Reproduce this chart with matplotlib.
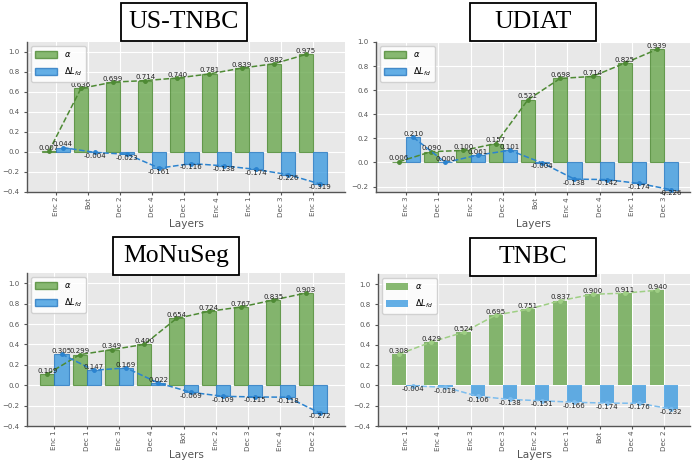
import numpy as np
import matplotlib.pyplot as plt
from matplotlib.patches import Rectangle, Patch

# per-dataset layer ordering, alpha values and delta L_fd
us_layers = ["Enc 2", "Bot", "Dec 2", "Dec 4", "Dec 1", "Enc 4", "Enc 1", "Dec 3", "Enc 3"]
us_alpha = [0.007, 0.636, 0.699, 0.714, 0.740, 0.781, 0.839, 0.882, 0.975]
us_dl = [0.044, -0.004, -0.023, -0.161, -0.116, -0.138, -0.174, -0.226, -0.319]

ud_layers = ["Enc 3", "Dec 1", "Enc 2", "Dec 2", "Bot", "Enc 4", "Dec 4", "Enc 1", "Dec 3"]
ud_alpha = [0.006, 0.090, 0.100, 0.157, 0.521, 0.698, 0.714, 0.825, 0.939]
ud_dl = [0.210, 0.000, 0.061, 0.101, -0.004, -0.138, -0.142, -0.174, -0.226]

mo_layers = ["Enc 1", "Dec 1", "Enc 3", "Dec 4", "Bot", "Enc 2", "Dec 3", "Enc 4", "Dec 2"]
mo_alpha = [0.109, 0.299, 0.349, 0.400, 0.654, 0.724, 0.767, 0.835, 0.903]
mo_dl = [0.305, 0.147, 0.169, 0.022, -0.069, -0.109, -0.115, -0.118, -0.272]

tn_layers = ["Enc 1", "Enc 4", "Enc 3", "Dec 3", "Enc 2", "Dec 1", "Bot", "Dec 4", "Dec 2"]
tn_alpha = [0.308, 0.429, 0.524, 0.695, 0.751, 0.837, 0.900, 0.911, 0.940]
tn_dl = [-0.004, -0.018, -0.106, -0.138, -0.151, -0.166, -0.174, -0.176, -0.232]

GREEN = "#6aa84f"
BLUE = "#3d9be0"

W, H = 692, 461
fig = plt.figure(figsize=(W / 100, H / 100), dpi=100)


def px_axes(left, top, right, bottom):
    return fig.add_axes([left / W, 1 - bottom / H, (right - left) / W, (bottom - top) / H])


def panel(ax, layers, alpha, dl, ylim, xlim, label_y, light=False):
    x = np.arange(len(layers))
    w = 0.44
    ax.set_facecolor("#e8e8e8")
    ax.set_axisbelow(True)
    ax.grid(True, color="white", linewidth=0.8)
    if light:
        ax.bar(x - w / 2, alpha, w, color=GREEN, alpha=0.8, label=r"$\alpha$")
        ax.bar(x + w / 2, dl, w, color=BLUE, alpha=0.8, label=r"$\Delta L_{fd}$")
        gl, bl = "#9fcf85", "#7dbdee"
    else:
        ax.bar(x - w / 2, alpha, w, color=GREEN, alpha=0.8, edgecolor="#4e8a34",
               linewidth=0.8, label=r"$\alpha$")
        ax.bar(x + w / 2, dl, w, color=BLUE, alpha=0.8, edgecolor="#2878c0",
               linewidth=0.8, label=r"$\Delta L_{fd}$")
        gl, bl = "#4e8a34", "#2b83cf"
    ax.plot(x - w / 2, alpha, "--o", color=gl, lw=1.1, ms=2.5, zorder=3)
    ax.plot(x + w / 2, dl, "--o", color=bl, lw=1.1, ms=2.5, zorder=3)
    for xi, a in zip(x, alpha):
        ax.text(xi - w / 2, a + 0.004, f"{a:.3f}", ha="center", va="bottom",
                fontsize=5, color="#222", zorder=4)
    for xi, d in zip(x, dl):
        if d >= 0:
            ax.text(xi + w / 2, d + 0.004, f"{d:.3f}", ha="center", va="bottom",
                    fontsize=5, color="#222", zorder=4)
        else:
            ax.text(xi + w / 2, d - 0.004, f"{d:.3f}", ha="center", va="top",
                    fontsize=5, color="#222", zorder=4)
    ax.set_xticks(x)
    ax.set_xticklabels(layers, rotation=90, fontsize=5.1, color="#555")
    ax.tick_params(axis="y", labelsize=5, labelcolor="#555", length=2, color="#555")
    ax.tick_params(axis="x", length=2, color="#555", pad=1.5)
    ax.set_ylim(*ylim)
    ax.set_xlim(*xlim)
    for s in ("top", "right"):
        ax.spines[s].set_visible(False)
    for s in ("left", "bottom"):
        ax.spines[s].set_color("#555")
        ax.spines[s].set_linewidth(1.0)
    ax.set_xlabel("Layers", fontsize=7.6, color="#555")
    ax.xaxis.label.set_va("center")
    ax.xaxis.set_label_coords(0.5, label_y)
    handles = [Patch(facecolor=GREEN, alpha=0.8, edgecolor=None if light else "#4e8a34"),
               Patch(facecolor=BLUE, alpha=0.8, edgecolor=None if light else "#2878c0")]
    ax.legend(handles, [r"$\alpha$", r"$\Delta L_{fd}$"], loc="upper left", fontsize=6,
              handlelength=2.6, handleheight=0.9, borderpad=0.5, labelspacing=0.7,
              facecolor="white", framealpha=0.85, edgecolor="#ccc", fancybox=True)


def title_box(left, top, right, bottom, text):
    fig.add_artist(Rectangle((left / W, 1 - bottom / H), (right - left) / W, (bottom - top) / H,
                             transform=fig.transFigure, facecolor="white",
                             edgecolor="black", linewidth=1.3, zorder=10))
    fig.text((left + right) / 2 / W, 1 - (top + bottom) / 2 / H, text, ha="center",
             va="center", fontsize=18.5, family="Liberation Serif", zorder=11)


ax1 = px_axes(27, 42, 345, 192)
panel(ax1, us_layers, us_alpha, us_dl, (-0.4, 1.1), (-0.9, 9.0), -0.215)
ax2 = px_axes(376, 42, 690, 192)
panel(ax2, ud_layers, ud_alpha, ud_dl, (-0.245, 1.0), (-0.93, 8.8), -0.215)
ax3 = px_axes(27, 273, 345, 426)
panel(ax3, mo_layers, mo_alpha, mo_dl, (-0.4, 1.1), (-0.85, 9.0), -0.19)
ax4 = px_axes(378, 274, 690, 426)
panel(ax4, tn_layers, tn_alpha, tn_dl, (-0.4, 1.1), (-0.87, 8.8), -0.19, light=True)

title_box(121, 3, 247, 41, "US-TNBC")
title_box(470, 3, 596, 41, "UDIAT")
title_box(113, 237, 239, 275, "MoNuSeg")
title_box(470, 238, 596, 276, "TNBC")

fig.savefig("out.png", dpi=100)
